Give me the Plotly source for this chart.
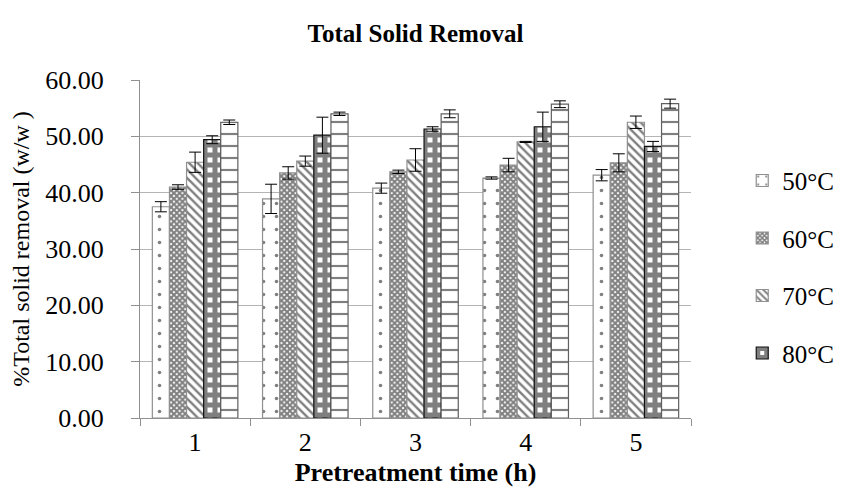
import plotly.graph_objects as go

categories = ["1", "2", "3", "4", "5"]
series_names = ["50°C", "60°C", "70°C", "80°C", "90°C"]
v50 = [37.5, 38.9, 40.8, 42.6, 43.1]
v60 = [41.0, 43.5, 43.7, 44.9, 45.3]
v70 = [45.4, 45.6, 45.8, 49.0, 52.5]
v80 = [49.4, 50.2, 51.3, 51.7, 48.2]
v90 = [52.5, 54.0, 54.0, 55.7, 55.8]
e50 = [0.9, 2.6, 0.9, 0.2, 1.0]
e60 = [0.4, 1.1, 0.3, 1.2, 1.6]
e70 = [1.8, 0.9, 2.0, 0.1, 1.1]
e80 = [0.7, 3.2, 0.4, 2.6, 0.9]
e90 = [0.4, 0.3, 0.7, 0.6, 0.8]
y_ticks = [0, 10, 20, 30, 40, 50, 60]

values = [v50, v60, v70, v80, v90]
errors = [e50, e60, e70, e80, e90]
patterns = [
    dict(shape=".", fgcolor="black", bgcolor="white", size=13, solidity=0.06, fillmode="overlay"),
    dict(shape="x", fgcolor="black", bgcolor="white", size=4, solidity=0.75, fillmode="overlay"),
    dict(shape="\\", fgcolor="black", bgcolor="white", size=6, solidity=0.4, fillmode="overlay"),
    dict(shape="+", fgcolor="black", bgcolor="white", size=10, solidity=0.75, fillmode="overlay"),
    dict(shape="-", fgcolor="black", bgcolor="white", size=12, solidity=0.18, fillmode="overlay"),
]
line_colors = ["#909090", "#909090", "#909090", "#111111", "#606060"]

FONT = "Liberation Serif, Times New Roman, serif"
fig = go.Figure()
for i, name in enumerate(series_names):
    fig.add_trace(go.Bar(
        x=categories, y=values[i], name=name,
        legendgroup=name, showlegend=(i < 4),
        marker=dict(color="white", pattern=patterns[i],
                    line=dict(color=line_colors[i], width=1.2)),
        error_y=dict(type="data", array=errors[i], color="black",
                     thickness=1, width=6),
    ))

fig.update_layout(
    width=843, height=498,
    paper_bgcolor="white", plot_bgcolor="white",
    margin=dict(l=129, r=144, t=72, b=88),
    barmode="group", bargap=0.224, bargroupgap=0,
    font=dict(family=FONT, color="black", size=25),
    title=dict(text="<b>Total Solid Removal</b>", x=0.5, xref="paper",
               y=1 - 25 / 498, yref="container", yanchor="middle",
               font=dict(family=FONT, size=25, color="black")),
    legend=dict(x=1.093, xanchor="left", y=0.77, yanchor="top",
                font=dict(family=FONT, size=25, color="black"),
                tracegroupgap=22, bgcolor="rgba(0,0,0,0)"),
    showlegend=True,
)
fig.update_xaxes(
    type="category", tickson="boundaries", ticks="outside", ticklen=7,
    tickcolor="#909090", showline=True, linecolor="#909090", linewidth=1,
    showgrid=False, tickfont=dict(family=FONT, size=26),
    ticklabelstandoff=1,
    title=dict(text="<b>Pretreatment time (h)</b>", standoff=6,
               font=dict(family=FONT, size=26)),
)
fig.update_yaxes(
    range=[0, 60], tickvals=y_ticks, tickformat=".2f", ticks="outside",
    ticklen=8, tickcolor="#909090", showline=True, linecolor="#909090",
    linewidth=1, showgrid=True, gridcolor="#b4b4b4", gridwidth=1,
    zeroline=False, tickfont=dict(family=FONT, size=26),
    ticklabelstandoff=22,
    title=dict(text="%Total solid removal (w/w )", standoff=8,
               font=dict(family=FONT, size=24)),
)
fig.write_html("out.html")
